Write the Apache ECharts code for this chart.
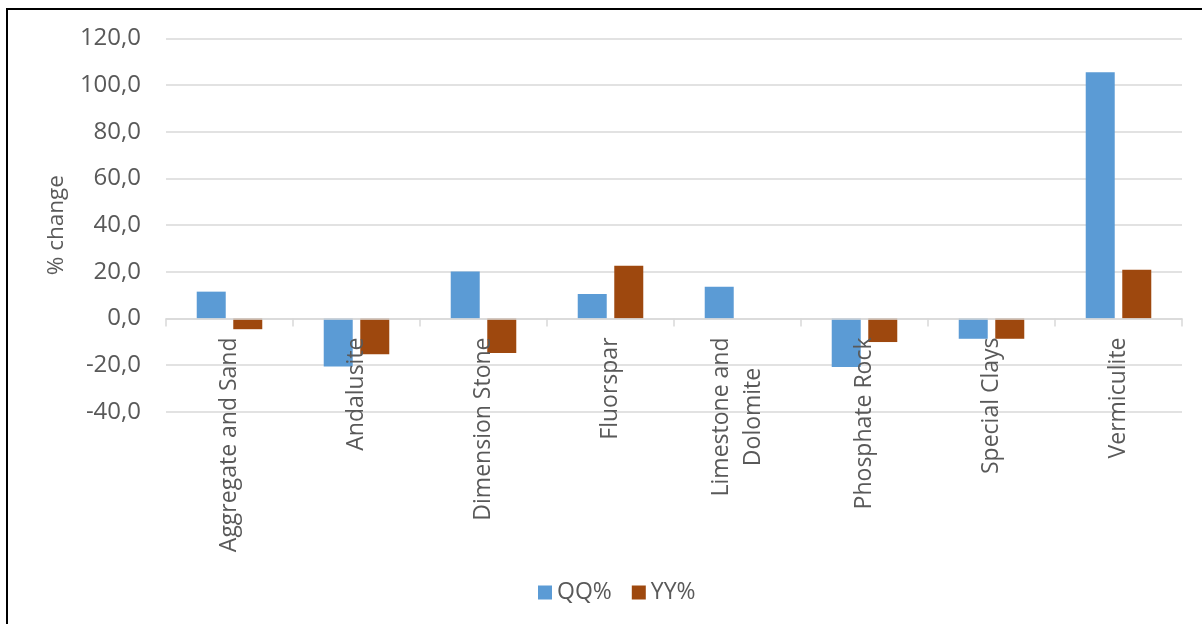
<!DOCTYPE html>
<html>
<head>
<meta charset="utf-8">
<script src="https://cdn.jsdelivr.net/npm/echarts@6/dist/echarts.min.js"></script>
<style>
  html, body { margin: 0; padding: 0; background: #fff; }
  #chart { width: 1202px; height: 624px; }
</style>
</head>
<body>
<div id="chart"></div>
<script>
// Quarterly and yearly % change per mineral commodity
const categories = [
  'Aggregate and Sand', 'Andalusite', 'Dimension Stone', 'Fluorspar',
  'Limestone and\nDolomite', 'Phosphate Rock', 'Special Clays', 'Vermiculite'
];
const qqValues = [11.5, -20.6, 20.1, 10.5, 13.6, -20.8, -8.7, 105.5];
const yyValues = [-4.6, -15.3, -14.8, 22.6, 0, -10.1, -8.7, 20.9];
const seriesNames = ['QQ%', 'YY%'];
const axisTitle = '% change';
const yMin = -40, yMax = 120, yStep = 20;

const textColor = '#595959';
const gridColor = '#d9d9d9';
const fontFamily = '"Open Sans", sans-serif';

// plot box
const W = 1202, H = 624;
const gridBox = { left: 166, right: 20, top: 38.5, bottom: 212.2 };
const plotHeight = H - gridBox.top - gridBox.bottom;
// lift the category axis from the bottom edge up to the zero line
const zeroOffset = -plotHeight * (0 - yMin) / (yMax - yMin);

const chart = echarts.init(document.getElementById('chart'), null, { renderer: 'canvas' });

chart.setOption({
  animation: false,
  backgroundColor: '#ffffff',
  textStyle: { fontFamily: fontFamily },
  graphic: [{
    type: 'rect',
    shape: { x: 7, y: 9, width: 1400, height: 800 },
    style: { fill: 'none', stroke: '#000000', lineWidth: 2 },
    silent: true,
    z: 100
  }],
  grid: {
    left: gridBox.left, right: gridBox.right, top: gridBox.top, bottom: gridBox.bottom,
    containLabel: false,
    outerBoundsMode: 'none'
  },
  legend: {
    data: seriesNames,
    left: 533,
    top: 576,
    itemWidth: 14,
    itemHeight: 14,
    itemGap: 20,
    icon: 'rect',
    textStyle: { fontSize: 23, color: textColor, fontFamily: fontFamily }
  },
  xAxis: {
    type: 'category',
    data: categories,
    position: 'bottom',
    offset: zeroOffset,
    z: 3,
    axisLine: { show: true, onZero: false, lineStyle: { color: gridColor, width: 1.5 } },
    axisTick: { show: true, length: 8, lineStyle: { color: gridColor, width: 1.5 } },
    axisLabel: {
      interval: 0,
      rotate: 90,
      margin: 19,
      hideOverlap: false,
      formatter: function (v) {
        return v.split('\n').map(function (s) { return '{c|' + s + '}'; }).join('\n');
      },
      rich: {
        c: { fontSize: 23, color: textColor, fontFamily: fontFamily, align: 'center', lineHeight: 32 }
      }
    }
  },
  yAxis: {
    type: 'value',
    min: yMin,
    max: yMax,
    interval: yStep,
    name: axisTitle,
    nameLocation: 'middle',
    nameRotate: 90,
    nameGap: 98,
    nameTextStyle: { fontSize: 22.5, color: textColor, fontFamily: fontFamily },
    axisLine: { show: false },
    axisTick: { show: false },
    axisLabel: {
      margin: 25,
      fontSize: 24,
      color: textColor,
      fontFamily: fontFamily,
      formatter: function (v) { return v.toFixed(1).replace('.', ','); }
    },
    splitLine: { lineStyle: { color: gridColor, width: 1.5 } }
  },
  series: [
    {
      name: seriesNames[0],
      type: 'bar',
      data: qqValues,
      barWidth: 29,
      barGap: '26%',
      itemStyle: { color: '#5B9BD5' }
    },
    {
      name: seriesNames[1],
      type: 'bar',
      data: yyValues,
      barWidth: 29,
      barGap: '26%',
      itemStyle: { color: '#9E480E' }
    }
  ]
});
</script>
</body>
</html>
